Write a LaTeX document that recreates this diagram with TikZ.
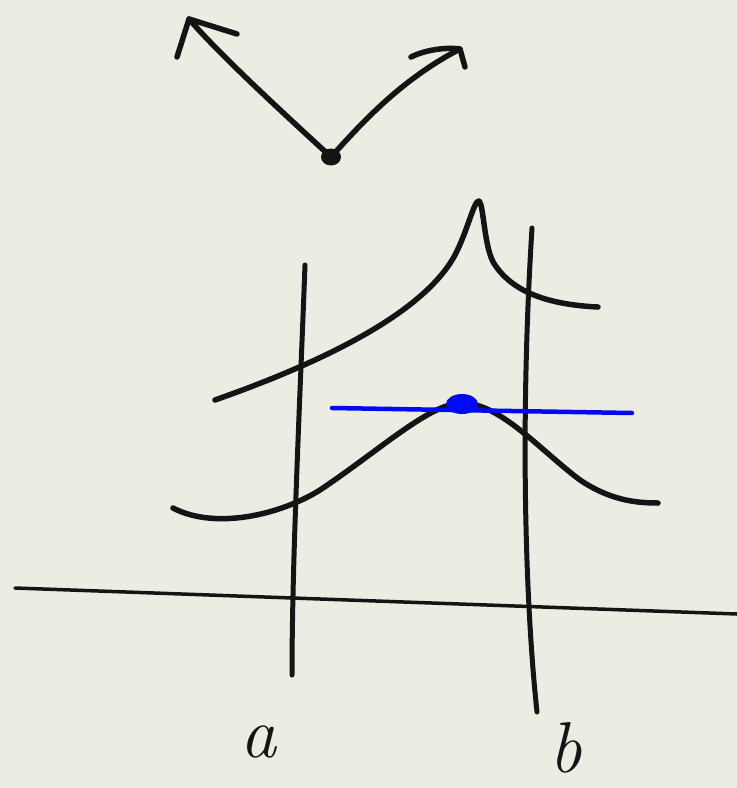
\documentclass[tikz,border=0pt]{standalone}
\usetikzlibrary{arrows.meta,shapes.geometric}
\definecolor{paper}{RGB}{236,236,227}
\definecolor{ink}{RGB}{20,20,20}
\definecolor{pen}{RGB}{0,10,245}
\begin{document}
\begin{tikzpicture}[x=1pt,y=-1pt,
  stroke/.style={draw=ink,line width=5.5pt,line cap=round,line join=round},
  bluestroke/.style={draw=pen,line width=4.5pt,line cap=round},
  lbl/.style={text=ink,font=\fontsize{72}{72}\selectfont\itshape,inner sep=0pt}]
\fill[paper] (0,0) rectangle (737,788);
\useasboundingbox (0,0) rectangle (737,788);
% origin dot
\node[ellipse,fill=ink,minimum width=20pt,minimum height=17pt,inner sep=0pt] (o) at (331,157) {};
% left arrow
\coordinate (lt) at (189,19);
\draw[stroke] (o.center) .. controls (280,110) and (220,55) .. (lt);
\draw[stroke] (177,57) -- (lt) -- (237,34);
% right arrow
\coordinate (rt) at (460,49);
\draw[stroke] (o.center) .. controls (360,125) and (400,80) .. (rt);
\draw[stroke] (411,57) .. controls (425,50) and (445,47) .. (rt) -- (465,67);
% axis
\draw[stroke,line width=3.5pt] (15,588) -- (737,614);
% vertical lines a, b
\draw[stroke,line width=5pt] (305,265) .. controls (300,400) and (292,560) .. (292,675);
\draw[stroke,line width=5pt] (532,228) .. controls (520,420) and (525,600) .. (537,712);
% upper curve with cusp
\draw[stroke] (215,400) .. controls (300,370) and (420,320) .. (455,255)
              .. controls (468,230) and (474,200) .. (479,201)
              .. controls (484,205) and (484,250) .. (495,265)
              .. controls (515,295) and (555,305) .. (598,307);
% lower bell curve
\draw[stroke] (173,508) .. controls (215,530) and (280,515) .. (320,490)
              .. controls (380,450) and (430,403) .. (462,403)
              .. controls (500,403) and (540,450) .. (580,480)
              .. controls (610,500) and (635,503) .. (658,503);
% blue tangent
\draw[bluestroke] (332,408) -- (632,413);
\node[ellipse,fill=pen,minimum width=32pt,minimum height=20pt,inner sep=0pt] (p) at (462,404) {};
% labels
\node[lbl] (a) at (258,742) {a};
\node[lbl] (b) at (566,748) {b};
\end{tikzpicture}
\end{document}
